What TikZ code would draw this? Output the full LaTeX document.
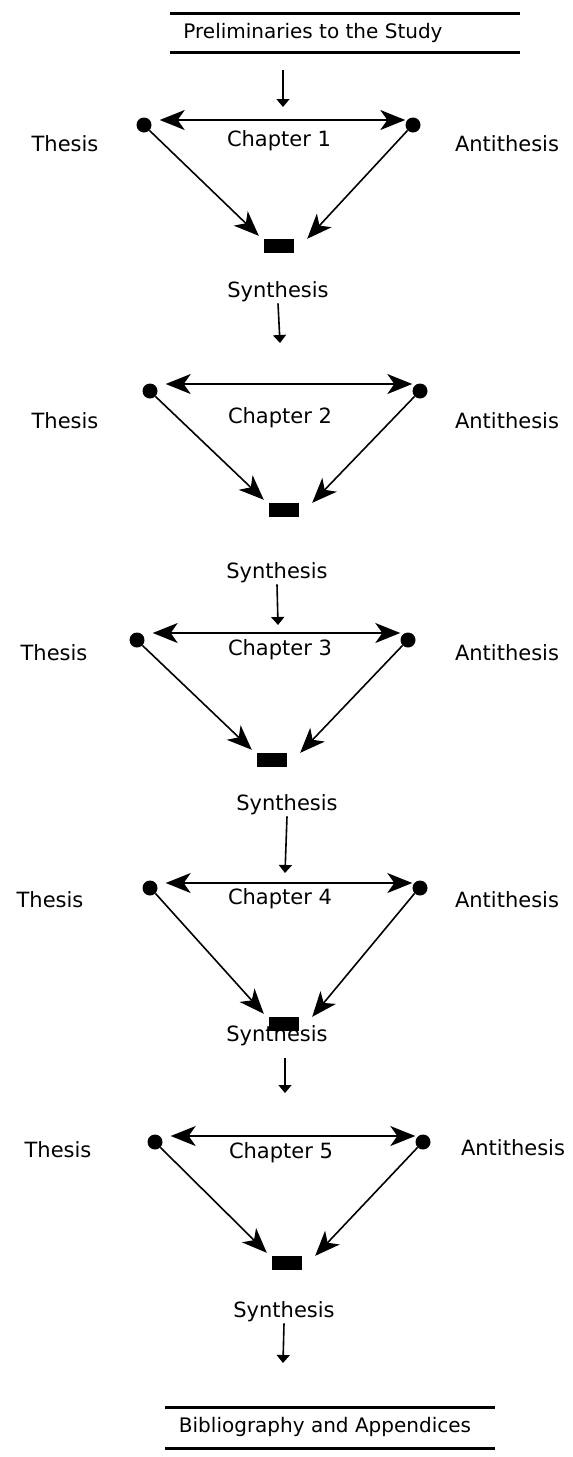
\documentclass[tikz,border=0pt]{standalone}
\usepackage{fontspec}
\setmainfont{DejaVu Sans}
\usepackage{tikz}
\usetikzlibrary{arrows.meta, positioning, calc}

\begin{document}
\begin{tikzpicture}[x=1pt, y=-1pt,
  every node/.style={font=\fontsize{21}{25}\selectfont},
  lbl/.style={inner sep=1pt},
  dot/.style={circle, fill=black, inner sep=0pt, minimum size=15pt},
  synbox/.style={rectangle, fill=black, inner sep=0pt, minimum width=30pt, minimum height=14pt},
  pair/.style={{Stealth[length=25pt,width=20pt,inset=7pt]}-{Stealth[length=25pt,width=20pt,inset=7pt]}, line width=1.6pt},
  toward/.style={-{Stealth[length=25pt,width=20pt,inset=7pt]}, line width=1.6pt},
  down/.style={-{Triangle[length=8pt,width=13pt]}, line width=1.6pt},
  rule/.style={line width=3pt}]
  \useasboundingbox (0,0) rectangle (573,1457);

  % Header
  \draw[rule] (170,13) -- (520,13);
  \node[lbl, font=\fontsize{20}{24}\selectfont] (pre) at (313,33) {Preliminaries to the Study};
  \draw[rule] (170,52) -- (520,52);
  \coordinate (p0) at (283,70);
  \coordinate (d0) at (283,107);
  \draw[down] (p0) -- (d0);

  % Chapter 1
  \node[dot] (t1) at (144,125) {};
  \node[dot] (a1) at (413,125) {};
  \node[synbox] (s1) at (279,246) {};
  \node[lbl] (tl1) at (65,144) {Thesis};
  \node[lbl] (al1) at (507,144) {Antithesis};
  \node[lbl] (c1) at (279,141) {Chapter 1};
  \node[lbl] (sl1) at (278,292) {Synthesis};
  \draw[pair, shorten <=8pt] ([yshift=5pt]t1.east) -- ([yshift=5pt]a1.west);
  \draw[toward] (t1.south east) -- ([xshift=-5pt,yshift=3pt]s1.north west);
  \draw[toward] (a1.south west) -- ([xshift=13pt]s1.north east);
  \coordinate (d1) at (280,343);
  \draw[down] (sl1.south) -- (d1);

  % Chapter 2
  \node[dot] (t2) at (150,391) {};
  \node[dot] (a2) at (420,391) {};
  \node[synbox] (s2) at (284,510) {};
  \node[lbl] (tl2) at (65,421) {Thesis};
  \node[lbl] (al2) at (507,421) {Antithesis};
  \node[lbl] (c2) at (280,418) {Chapter 2};
  \node[lbl] (sl2) at (277,573) {Synthesis};
  \draw[pair, shorten <=8pt] ([yshift=7pt]t2.east) -- ([yshift=7pt]a2.west);
  \draw[toward] (t2.south east) -- ([xshift=-5pt,yshift=3pt]s2.north west);
  \draw[toward] (a2.south west) -- ([xshift=13pt]s2.north east);
  \coordinate (d2) at (278,625);
  \draw[down] (sl2.south) -- (d2);

  % Chapter 3
  \node[dot] (t3) at (137,640) {};
  \node[dot] (a3) at (408,640) {};
  \node[synbox] (s3) at (272,760) {};
  \node[lbl] (tl3) at (54,653) {Thesis};
  \node[lbl] (al3) at (507,653) {Antithesis};
  \node[lbl] (c3) at (280,650) {Chapter 3};
  \node[lbl] (sl3) at (287,805) {Synthesis};
  \draw[pair, shorten <=8pt] ([yshift=7pt]t3.east) -- ([yshift=7pt]a3.west);
  \draw[toward] (t3.south east) -- ([xshift=-5pt,yshift=3pt]s3.north west);
  \draw[toward] (a3.south west) -- ([xshift=13pt]s3.north east);
  \coordinate (d3) at (285,873);
  \draw[down] (sl3.south) -- (d3);

  % Chapter 4
  \node[dot] (t4) at (150,888) {};
  \node[dot] (a4) at (420,888) {};
  \node[synbox] (s4) at (284,1024) {};
  \node[lbl] (tl4) at (50,900) {Thesis};
  \node[lbl] (al4) at (507,900) {Antithesis};
  \node[lbl] (c4) at (280,899) {Chapter 4};
  \node[lbl] (sl4) at (277,1036) {Synthesis};
  \draw[pair, shorten <=8pt] ([yshift=5pt]t4.east) -- ([yshift=5pt]a4.west);
  \draw[toward] (t4.south east) -- ([xshift=-5pt,yshift=3pt]s4.north west);
  \draw[toward] (a4.south west) -- ([xshift=13pt]s4.north east);
  \coordinate (p4) at (285,1058);
  \coordinate (d4) at (285,1093);
  \draw[down] (p4) -- (d4);

  % Chapter 5
  \node[dot] (t5) at (155,1142) {};
  \node[dot] (a5) at (423,1142) {};
  \node[synbox] (s5) at (287,1263) {};
  \node[lbl] (tl5) at (58,1150) {Thesis};
  \node[lbl] (al5) at (513,1148) {Antithesis};
  \node[lbl] (c5) at (281,1153) {Chapter 5};
  \node[lbl] (sl5) at (284,1312) {Synthesis};
  \draw[pair, shorten <=8pt] ([yshift=6pt]t5.east) -- ([yshift=6pt]a5.west);
  \draw[toward] (t5.south east) -- ([xshift=-5pt,yshift=3pt]s5.north west);
  \draw[toward] (a5.south west) -- ([xshift=13pt]s5.north east);
  \coordinate (d5) at (283,1363);
  \draw[down] (sl5.south) -- (d5);

  % Footer
  \draw[rule] (165,1407) -- (495,1407);
  \node[lbl, font=\fontsize{20}{24}\selectfont] (bib) at (325,1427) {Bibliography and Appendices};
  \draw[rule] (165,1448) -- (495,1448);
\end{tikzpicture}
\end{document}
